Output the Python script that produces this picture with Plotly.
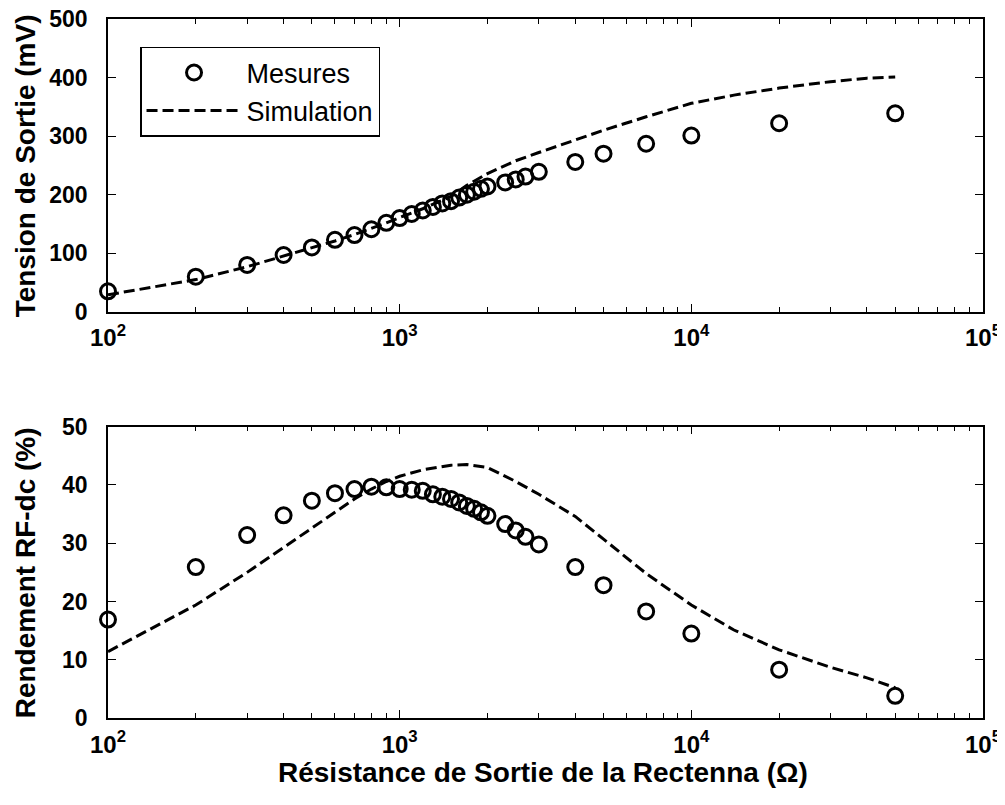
import plotly.graph_objects as go
from plotly.subplots import make_subplots

# Measured data
meas_x = [100, 200, 300, 400, 500, 600, 700, 800, 900, 1000, 1100, 1200, 1300, 1400, 1500,
          1600, 1700, 1800, 1900, 2000, 2300, 2500, 2700, 3000, 4000, 5000, 7000, 10000, 20000, 50000]
meas_tension = [35, 60, 80, 97, 110, 123, 131, 141, 152, 160, 167, 173, 179, 185, 189,
                195, 200, 205, 210, 214, 221, 226, 231, 239, 256, 270, 287, 301, 322, 339]
meas_rendement = [16.9, 25.9, 31.4, 34.8, 37.3, 38.6, 39.3, 39.7, 39.6, 39.3, 39.2, 39.0, 38.4, 38.0, 37.6,
                  37.0, 36.4, 35.9, 35.3, 34.7, 33.3, 32.2, 31.1, 29.8, 25.9, 22.8, 18.3, 14.5, 8.3, 3.8]

# Simulation data
sim_x = [100, 200, 300, 400, 500, 600, 700, 800, 900, 1000, 1200, 1500, 1700, 2000, 2500, 3000,
         4000, 5000, 7000, 10000, 14000, 20000, 30000, 40000, 50000]
sim_tension = [29, 55, 77, 95, 109, 121, 132, 142, 152, 161, 176, 197, 216, 236, 258, 272,
               293, 310, 333, 356, 370, 382, 393, 399, 401]
sim_rendement = [11.4, 19.4, 25.0, 29.3, 32.7, 35.3, 37.6, 39.3, 40.6, 41.5, 42.6, 43.4, 43.5, 43.0, 40.6, 38.4,
                 34.6, 30.7, 24.8, 19.4, 15.1, 11.7, 8.7, 6.9, 5.2]

x_major = [100, 1000, 10000, 100000]
x_major_text = ["10<sup>2</sup>", "10<sup>3</sup>", "10<sup>4</sup>", "10<sup>5</sup>"]
x_minor = [200, 300, 400, 500, 600, 700, 800, 900,
           2000, 3000, 4000, 5000, 6000, 7000, 8000, 9000,
           20000, 30000, 40000, 50000, 60000, 70000, 80000, 90000]

FONT = "Liberation Sans, Arial, sans-serif"

fig = make_subplots(rows=2, cols=1)

marker = dict(symbol="circle-open", size=15, color="black", line=dict(width=3, color="black"))
line = dict(color="black", width=3, dash="11px,5px")

fig.add_trace(go.Scatter(x=meas_x, y=meas_tension, mode="markers", name="Mesures",
                         marker=marker, cliponaxis=False), row=1, col=1)
fig.add_trace(go.Scatter(x=sim_x, y=sim_tension, mode="lines", name="Simulation",
                         line=line, cliponaxis=False), row=1, col=1)
fig.add_trace(go.Scatter(x=meas_x, y=meas_rendement, mode="markers", name="Mesures",
                         marker=marker, cliponaxis=False, showlegend=False), row=2, col=1)
fig.add_trace(go.Scatter(x=sim_x, y=sim_rendement, mode="lines", name="Simulation",
                         line=line, cliponaxis=False, showlegend=False), row=2, col=1)

xcommon = dict(type="log", range=[2, 5], tickmode="array", tickvals=x_major, ticktext=x_major_text,
               ticks="inside", ticklen=8, tickwidth=1, tickcolor="black",
               showline=True, linecolor="black", linewidth=1.5, mirror="ticks",
               showgrid=False, zeroline=False,
               minor=dict(tickmode="array", tickvals=x_minor, ticks="inside", ticklen=5,
                          tickwidth=1, tickcolor="black", showgrid=False),
               tickfont=dict(family=FONT, size=24, color="black", weight="bold"),
               ticklabelstandoff=4, ticklabeloverflow="allow")
ycommon = dict(ticks="inside", ticklen=8, tickwidth=1, tickcolor="black",
               showline=True, linecolor="black", linewidth=1.5, mirror="ticks",
               showgrid=False, zeroline=False,
               tickfont=dict(family=FONT, size=23, color="black", weight="bold"),
               ticklabelstandoff=14, ticklabeloverflow="allow")

fig.update_xaxes(**xcommon)
fig.update_yaxes(**ycommon)
fig.update_yaxes(range=[0, 500], dtick=100, tick0=0, domain=[0.5811, 1.0], row=1, col=1)
fig.update_yaxes(range=[0, 50], dtick=10, tick0=0, domain=[0.0, 0.4167], row=2, col=1)

fig.update_layout(
    width=997, height=797,
    margin=dict(l=100, r=22, t=11, b=86.5, autoexpand=False),
    paper_bgcolor="white", plot_bgcolor="white",
    font=dict(family=FONT, color="black"),
    showlegend=True,
    legend=dict(x=0.0366, y=0.96, xanchor="left", yanchor="top",
                bordercolor="black", borderwidth=1.5, bgcolor="white",
                font=dict(family=FONT, size=27, color="black"),
                itemwidth=95, tracegroupgap=0),
    annotations=[
        dict(text="Tension de Sortie (mV)", xref="paper", yref="paper",
             x=-0.0949, y=(0.5811 + 1.0) / 2, textangle=-90, showarrow=False,
             xanchor="center", yanchor="middle",
             font=dict(family=FONT, size=28, color="black", weight="bold")),
        dict(text="Rendement RF-dc (%)", xref="paper", yref="paper",
             x=-0.0949, y=0.4167 / 2, textangle=-90, showarrow=False,
             xanchor="center", yanchor="middle",
             font=dict(family=FONT, size=28, color="black", weight="bold")),
        dict(text="Résistance de Sortie de la Rectenna (Ω)", xref="paper", yref="paper",
             x=(543 - 108) / 875, y=(718.5 - 773) / 699.5, showarrow=False,
             xanchor="center", yanchor="middle",
             font=dict(family=FONT, size=28, color="black", weight="bold")),
    ],
)

fig.write_html("out.html")
